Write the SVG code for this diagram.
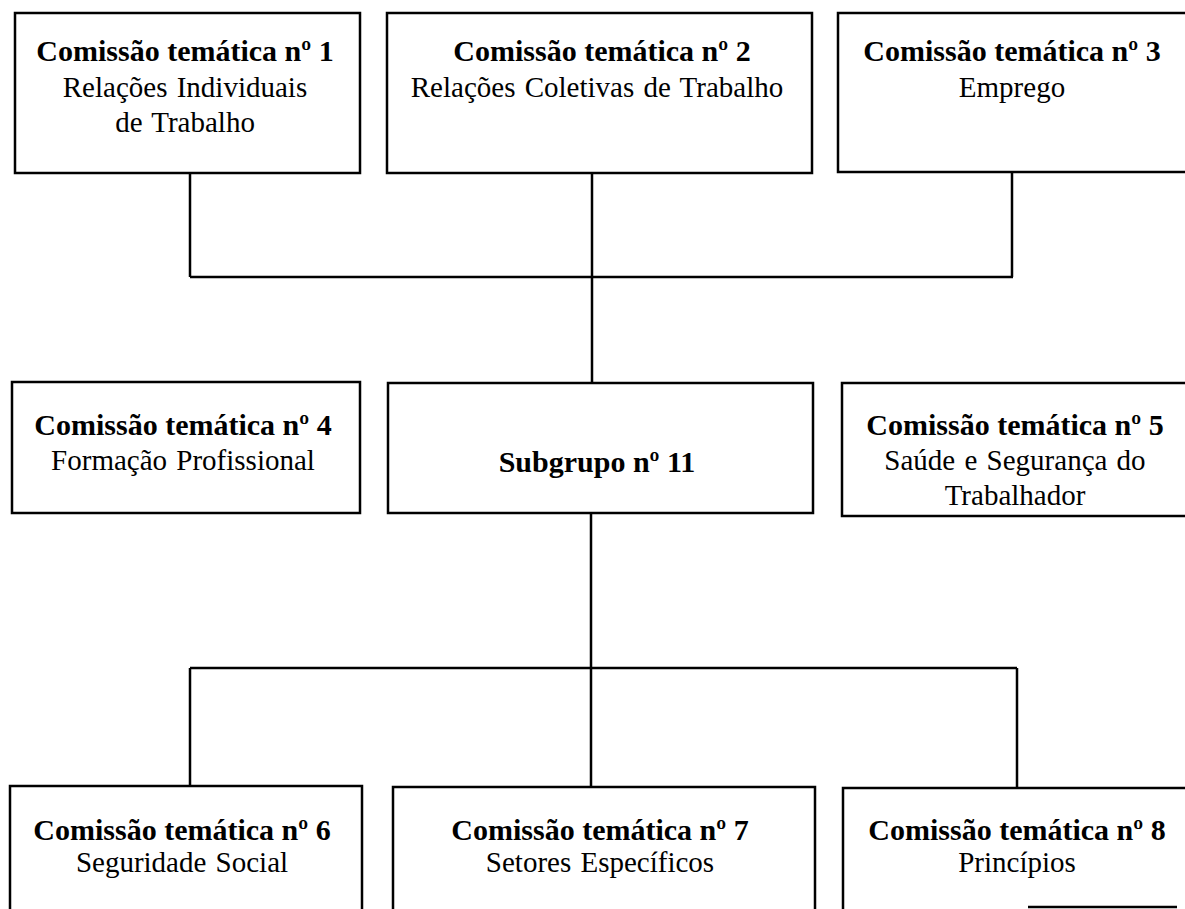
<svg xmlns="http://www.w3.org/2000/svg" width="1185" height="909" viewBox="0 0 1185 909">
<style>
.box{fill:#fff;stroke:#000;stroke-width:2.5}
.ln{fill:none;stroke:#000;stroke-width:2.5}
text{font-family:"Liberation Serif","Times New Roman",serif;font-size:29px;fill:#000;text-anchor:middle;word-spacing:2px}
.b{font-weight:bold;font-size:30px;word-spacing:0}
</style>
<rect width="1185" height="909" fill="#fff"/>
<g id="connectors">
<path class="ln" d="M190 173 V277 M592 173 V383 M1012 172 V277 M190 277 H1013"/>
<path class="ln" d="M591 513 V787 M190 668 H1017 M190 668 V786 M1017 668 V788"/>
</g>
<g id="n1"><rect class="box" x="15" y="13" width="345" height="160"/>
<text class="b" x="185" y="61">Comissão temática nº 1</text>
<text x="185" y="97">Relações Individuais</text>
<text x="185" y="132">de Trabalho</text></g>
<g id="n2"><rect class="box" x="387" y="13" width="425" height="160"/>
<text class="b" x="602" y="61">Comissão temática nº 2</text>
<text x="597" y="97">Relações Coletivas de Trabalho</text></g>
<g id="n3"><rect class="box" x="838" y="13" width="360" height="159"/>
<text class="b" x="1012" y="61">Comissão temática nº 3</text>
<text x="1012" y="97">Emprego</text></g>
<g id="n4"><rect class="box" x="12" y="382" width="348" height="131"/>
<text class="b" x="183" y="435">Comissão temática nº 4</text>
<text x="183" y="470">Formação Profissional</text></g>
<g id="sub"><rect class="box" x="388" y="383" width="425" height="130"/>
<text class="b" x="597" y="472">Subgrupo nº 11</text></g>
<g id="n5"><rect class="box" x="842" y="383" width="360" height="133"/>
<text class="b" x="1015" y="435">Comissão temática nº 5</text>
<text x="1015" y="470">Saúde e Segurança do</text>
<text x="1015" y="505">Trabalhador</text></g>
<g id="n6"><rect class="box" x="10" y="786" width="352" height="140"/>
<text class="b" x="182" y="840">Comissão temática nº 6</text>
<text x="182" y="872">Seguridade Social</text></g>
<g id="n7"><rect class="box" x="393" y="787" width="422" height="140"/>
<text class="b" x="600" y="840">Comissão temática nº 7</text>
<text x="600" y="872">Setores Específicos</text></g>
<g id="n8"><rect class="box" x="843" y="788" width="360" height="140"/>
<text class="b" x="1017" y="840">Comissão temática nº 8</text>
<text x="1017" y="872">Princípios</text></g>
<g id="mark"><path class="ln" d="M1028 907 H1177"/></g>
</svg>
